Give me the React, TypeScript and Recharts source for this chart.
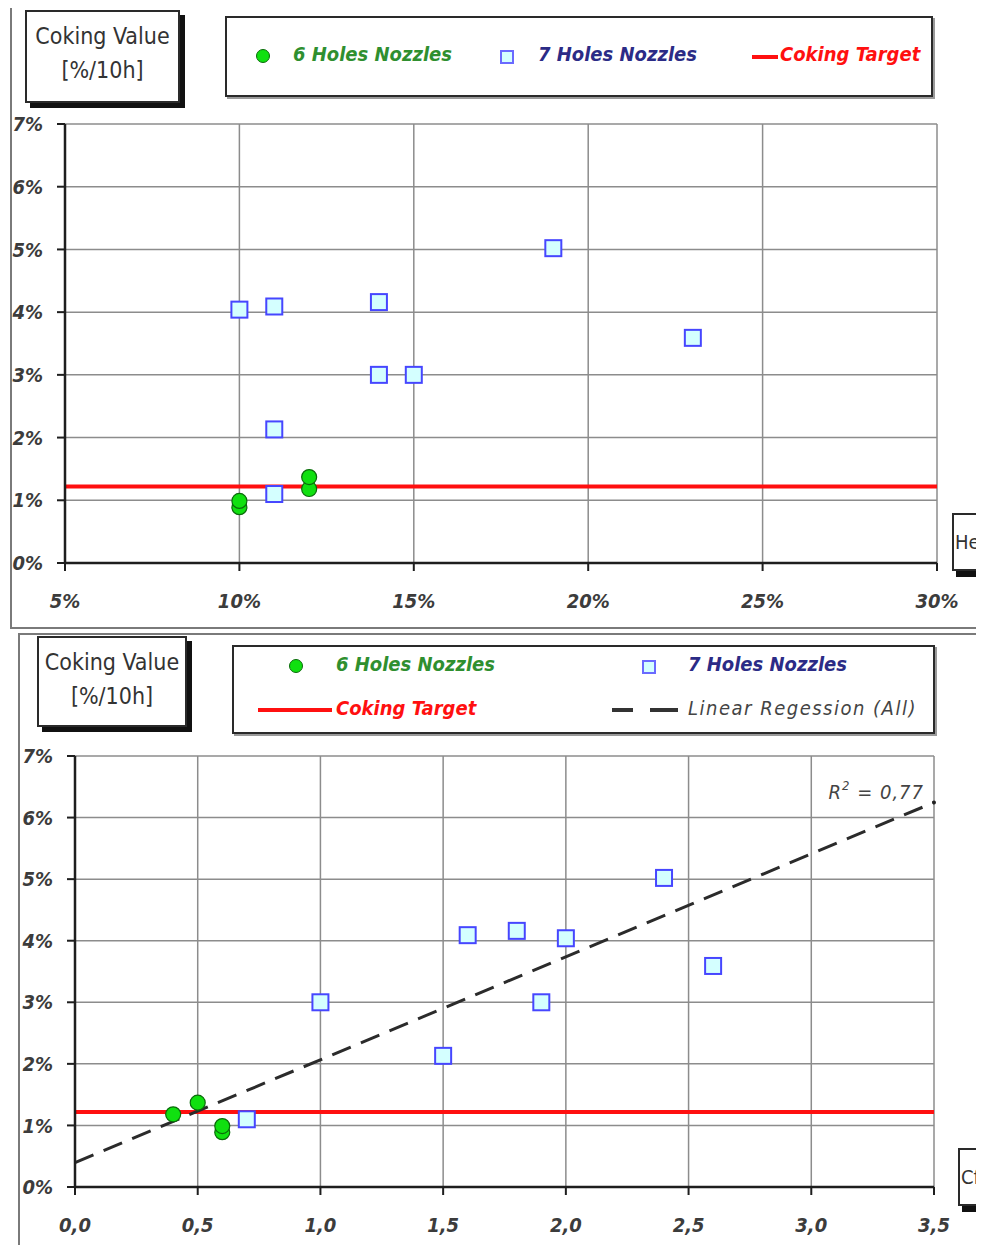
import React from "react";
import {
  CartesianGrid,
  ReferenceDot,
  ReferenceLine,
  Scatter,
  ScatterChart,
  XAxis,
  YAxis,
} from "recharts";

// Coking value per nozzle, in %/10h
const sixHoleCoking = [0.89, 0.99, 1.18, 1.37];
const sevenHoleCoking = [4.04, 4.09, 4.16, 3.0, 3.0, 2.13, 1.1, 5.02, 3.59];

// x values for the upper panel (percent)
const sixHoleShare = [10, 10, 12, 12];
const sevenHoleShare = [10, 11, 14, 14, 15, 11, 11, 19, 23];

// x values for the lower panel
const sixHoleCf = [0.6, 0.6, 0.4, 0.5];
const sevenHoleCf = [2.0, 1.6, 1.8, 1.0, 1.9, 1.5, 0.7, 2.4, 2.6];

const cokingTarget = 1.22;

const yTicks = [0, 1, 2, 3, 4, 5, 6, 7];
const shareTicks = [5, 10, 15, 20, 25, 30];
const cfTicks = [0, 0.5, 1, 1.5, 2, 2.5, 3, 3.5];

const FONT = "'DejaVu Sans Condensed', 'DejaVu Sans', Verdana, sans-serif";
const GREEN = "#2f8f2f";
const NAVY = "#2b2b86";
const RED = "#ff1010";

const zip = (xs: number[], ys: number[]) => xs.map((x, i) => ({ x, y: ys[i] }));

// least squares fit over both nozzle types
function linearFit(xs: number[], ys: number[]) {
  const n = xs.length;
  const mx = xs.reduce((s, v) => s + v, 0) / n;
  const my = ys.reduce((s, v) => s + v, 0) / n;
  let sxy = 0;
  let sxx = 0;
  let syy = 0;
  xs.forEach((x, i) => {
    sxy += (x - mx) * (ys[i] - my);
    sxx += (x - mx) ** 2;
    syy += (ys[i] - my) ** 2;
  });
  const slope = sxy / sxx;
  return { slope, intercept: my - slope * mx, r2: (sxy * sxy) / (sxx * syy) };
}

const Dot = (p: any) => (
  <circle cx={p.cx} cy={p.cy} r={7.5} fill="#10e010" stroke="#0a6a0a" strokeWidth={1.2} />
);
const Box = (p: any) => (
  <rect x={p.cx - 8} y={p.cy - 8} width={16} height={16} fill="#d4ffff" stroke="#4646ff" strokeWidth={2} />
);

function AxisTick({ x, y, payload, anchor, dy, fmt }: any) {
  return (
    <text
      x={x}
      y={y}
      dy={dy}
      textAnchor={anchor}
      fontFamily={FONT}
      fontStyle="italic"
      fontWeight="bold"
      fontSize={20}
      fill="#3c3c3c"
    >
      {fmt(payload.value)}
    </text>
  );
}

const pct = (v: number) => `${v}%`;
const comma = (v: number) => v.toFixed(1).replace(".", ",");

function TitleBox({ left, top, width, height }: any) {
  return (
    <div
      style={{
        position: "absolute",
        left,
        top,
        width,
        height,
        border: "2px solid #2a2a2a",
        background: "#fff",
        boxShadow: "5px 5px 0 #111",
        boxSizing: "border-box",
        fontFamily: FONT,
        fontSize: 23,
        color: "#333",
        textAlign: "center",
        lineHeight: "34px",
        paddingTop: 7,
      }}
    >
      Coking Value
      <br />
      [%/10h]
    </div>
  );
}

function AxisNameBox({ left, top, height, text }: any) {
  return (
    <div
      style={{
        position: "absolute",
        left,
        top,
        width: 80,
        height,
        border: "2px solid #2a2a2a",
        background: "#fff",
        boxShadow: "4px 6px 0 #111",
        boxSizing: "border-box",
        fontFamily: FONT,
        fontSize: 20,
        color: "#333",
        lineHeight: `${height - 4}px`,
        paddingLeft: 1,
      }}
    >
      {text}
    </div>
  );
}

const legendText = (color: string, extra: any = {}) => ({
  position: "absolute" as const,
  fontFamily: FONT,
  fontStyle: "italic",
  fontWeight: "bold",
  fontSize: 20,
  color,
  whiteSpace: "nowrap" as const,
  ...extra,
});

function LegendDot({ left, top }: any) {
  return (
    <div
      style={{
        position: "absolute",
        left,
        top,
        width: 12,
        height: 12,
        borderRadius: "50%",
        background: "#10e010",
        border: "1px solid #0a6a0a",
      }}
    />
  );
}

function LegendSquare({ left, top }: any) {
  return (
    <div
      style={{
        position: "absolute",
        left,
        top,
        width: 10,
        height: 10,
        background: "#d4ffff",
        border: "2px solid #6a6aff",
      }}
    />
  );
}

function LegendBar({ left, top, width, color }: any) {
  return (
    <div style={{ position: "absolute", left, top, width, height: 4, background: color }} />
  );
}

function Panel({
  top,
  height,
  plotTop,
  plotLeft,
  plotRight,
  plotBottom,
  xDomain,
  xTicks,
  xFmt,
  sixX,
  sevenX,
  fit,
}: any) {
  const xAxisH = 45;
  const yAxisW = 50;
  const six = zip(sixX, sixHoleCoking);
  const seven = zip(sevenX, sevenHoleCoking);
  const fitStart = fit ? { x: xDomain[0], y: fit.intercept + fit.slope * xDomain[0] } : null;
  const fitEnd = fit ? { x: xDomain[1], y: fit.intercept + fit.slope * xDomain[1] } : null;

  return (
    <div style={{ position: "absolute", left: 0, top, width: 984, height }}>
      <ScatterChart
        width={984}
        height={height}
        margin={{
          top: plotTop,
          left: plotLeft - yAxisW,
          right: 984 - plotRight,
          bottom: height - plotBottom - xAxisH,
        }}
      >
        <CartesianGrid stroke="#8c8c8c" strokeWidth={1.5} />
        <XAxis
          type="number"
          dataKey="x"
          domain={xDomain}
          ticks={xTicks}
          interval={0}
          height={xAxisH}
          allowDataOverflow
          axisLine={{ stroke: "#1e1e1e", strokeWidth: 2.5 }}
          tickLine={{ stroke: "#1e1e1e", strokeWidth: 2 }}
          tickSize={8}
          tickMargin={23}
          tick={(p: any) => <AxisTick {...p} anchor="middle" dy="0.71em" fmt={xFmt} />}
        />
        <YAxis
          type="number"
          dataKey="y"
          domain={[0, 7]}
          ticks={yTicks}
          interval={0}
          width={yAxisW}
          axisLine={{ stroke: "#1e1e1e", strokeWidth: 2.5 }}
          tickLine={{ stroke: "#1e1e1e", strokeWidth: 2 }}
          tickSize={8}
          tickMargin={14}
          tick={(p: any) => <AxisTick {...p} anchor="end" dy="0.36em" fmt={pct} />}
        />
        <ReferenceLine y={cokingTarget} stroke={RED} strokeWidth={4} />
        {fit && (
          <ReferenceLine
            segment={[fitStart, fitEnd]}
            stroke="#2b2b2b"
            strokeWidth={3}
            strokeDasharray="20 11"
          />
        )}
        {fit && (
          <ReferenceDot
            x={fitEnd.x}
            y={fitEnd.y}
            r={2}
            fill="#222"
            stroke="none"
            label={{
              content: (lp: any) => {
                const vb = lp.viewBox || {};
                const cx = vb.x + (vb.width || 0) / 2;
                const cy = vb.y + (vb.height || 0) / 2;
                return (
                  <text
                    x={cx - 10}
                    y={cy - 3}
                    textAnchor="end"
                    fontFamily={FONT}
                    fontStyle="italic"
                    fontSize={20}
                    fill="#444"
                    letterSpacing={1}
                  >
                    R
                    <tspan dy={-9} fontSize={13}>
                      2
                    </tspan>
                    <tspan dy={9}>{`  = ${fit.r2.toFixed(2).replace(".", ",")}`}</tspan>
                  </text>
                );
              },
            }}
          />
        )}
        <Scatter data={seven} shape={Box} isAnimationActive={false} />
        <Scatter data={six} shape={Dot} isAnimationActive={false} />
      </ScatterChart>
    </div>
  );
}

export default function App() {
  const allCf = [...sixHoleCf, ...sevenHoleCf];
  const allCoking = [...sixHoleCoking, ...sevenHoleCoking];
  const fit = linearFit(allCf, allCoking);

  return (
    <div
      style={{
        position: "relative",
        width: 984,
        height: 1253,
        margin: -8,
        overflow: "hidden",
        background: "#fff",
      }}
    >
      {/* upper panel frame */}
      <div
        style={{
          position: "absolute",
          left: 10,
          top: 5,
          width: 1000,
          height: 624,
          border: "2px solid #7a7a7a",
          boxSizing: "border-box",
        }}
      />
      {/* lower panel frame */}
      <div
        style={{
          position: "absolute",
          left: 18,
          top: 633,
          width: 1000,
          height: 700,
          border: "2px solid #7a7a7a",
          boxSizing: "border-box",
        }}
      />

      <Panel
        top={0}
        height={632}
        plotTop={124}
        plotLeft={65}
        plotRight={937}
        plotBottom={563}
        xDomain={[5, 30]}
        xTicks={shareTicks}
        xFmt={pct}
        sixX={sixHoleShare}
        sevenX={sevenHoleShare}
      />
      <Panel
        top={632}
        height={621}
        plotTop={124}
        plotLeft={75}
        plotRight={934}
        plotBottom={555}
        xDomain={[0, 3.5]}
        xTicks={cfTicks}
        xFmt={comma}
        sixX={sixHoleCf}
        sevenX={sevenHoleCf}
        fit={fit}
      />

      {/* upper panel overlays */}
      <TitleBox left={25} top={10} width={155} height={93} />
      <div
        style={{
          position: "absolute",
          left: 225,
          top: 16,
          width: 708,
          height: 81,
          border: "2px solid #2a2a2a",
          boxShadow: "2px 2px 0 #9a9a9a",
          boxSizing: "border-box",
          background: "#fff",
        }}
      >
        <LegendDot left={29} top={31} />
        <div style={legendText(GREEN, { left: 66, top: 24 })}>6 Holes Nozzles</div>
        <LegendSquare left={273} top={32} />
        <div style={legendText(NAVY, { left: 311, top: 24 })}>7 Holes Nozzles</div>
        <LegendBar left={525} top={37} width={26} color={RED} />
        <div style={legendText(RED, { left: 553, top: 24 })}>Coking Target</div>
      </div>
      <AxisNameBox left={952} top={513} height={58} text="He" />

      {/* lower panel overlays */}
      <TitleBox left={37} top={636} width={150} height={91} />
      <div
        style={{
          position: "absolute",
          left: 232,
          top: 645,
          width: 703,
          height: 89,
          border: "2px solid #2a2a2a",
          boxShadow: "2px 2px 0 #9a9a9a",
          boxSizing: "border-box",
          background: "#fff",
        }}
      >
        <LegendDot left={55} top={12} />
        <div style={legendText(GREEN, { left: 102, top: 5 })}>6 Holes Nozzles</div>
        <LegendSquare left={408} top={13} />
        <div style={legendText(NAVY, { left: 454, top: 5 })}>7 Holes Nozzles</div>
        <LegendBar left={24} top={61} width={74} color={RED} />
        <div style={legendText(RED, { left: 102, top: 49 })}>Coking Target</div>
        <LegendBar left={378} top={61} width={21} color="#333" />
        <LegendBar left={416} top={61} width={28} color="#333" />
        <div
          style={legendText("#444", {
            left: 454,
            top: 49,
            fontWeight: "normal",
            letterSpacing: 1.5,
          })}
        >
          Linear Regession (All)
        </div>
      </div>
      <AxisNameBox left={958} top={1148} height={58} text="Cf" />
    </div>
  );
}
